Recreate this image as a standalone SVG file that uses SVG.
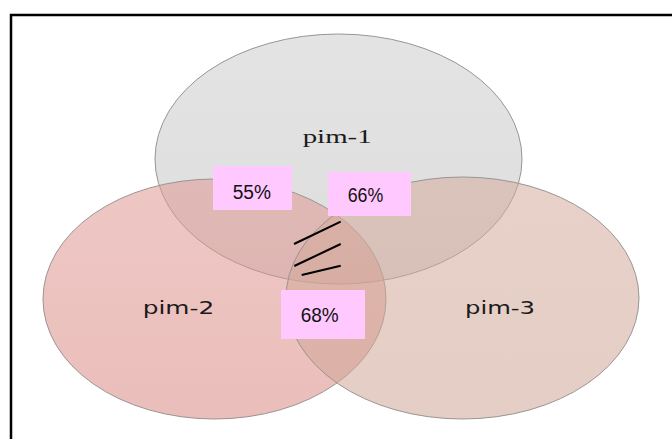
<svg xmlns="http://www.w3.org/2000/svg" width="672" height="439" viewBox="0 0 672 439">
<defs>
<linearGradient id="g1" x1="0" y1="0" x2="0" y2="1">
<stop offset="0" stop-color="#cdcdcd"/><stop offset="1" stop-color="#c2c2c2"/>
</linearGradient>
<linearGradient id="g2" x1="0" y1="0" x2="0" y2="1">
<stop offset="0" stop-color="#e09a94"/><stop offset="1" stop-color="#d98882"/>
</linearGradient>
<linearGradient id="g3" x1="0" y1="0" x2="0" y2="1">
<stop offset="0" stop-color="#d4ab9b"/><stop offset="1" stop-color="#cfa595"/>
</linearGradient>
</defs>
<style>
.ell{stroke:#9a9492;stroke-width:1;fill-opacity:0.55}
.lbl{font-family:"DejaVu Sans",sans-serif;font-size:18px;fill:#1a1a1a}
.lbls{font-family:"Liberation Serif",serif;font-size:19px;fill:#1a1a1a}
.box{fill:#ffc8ff}
.pct{font-family:"Liberation Sans",sans-serif;font-size:20.5px;fill:#111}
.hatch{stroke:#000;stroke-width:2;fill:none}
</style>
<rect width="672" height="439" fill="#fff"/>
<path d="M11 439 V15 H672" fill="none" stroke="#000" stroke-width="2.5"/>
<g id="pim-1">
<ellipse class="ell" cx="338.5" cy="159" rx="183.5" ry="125" fill="url(#g1)"/>
<text class="lbls" x="302.7" y="143" textLength="69" lengthAdjust="spacingAndGlyphs">pim-1</text>
</g>
<g id="pim-2">
<ellipse class="ell" cx="214.5" cy="299" rx="171.5" ry="120" fill="url(#g2)"/>
<text class="lbl" x="142.7" y="313.5" textLength="71.5" lengthAdjust="spacingAndGlyphs">pim-2</text>
</g>
<g id="pim-3">
<ellipse class="ell" cx="462.5" cy="298" rx="176.5" ry="121" fill="url(#g3)"/>
<text class="lbl" x="465" y="313.5" textLength="70" lengthAdjust="spacingAndGlyphs">pim-3</text>
</g>
<g id="connectors">
<line class="hatch" x1="294" y1="244" x2="340.7" y2="221.7"/>
<line class="hatch" x1="294.3" y1="266" x2="340.7" y2="244"/>
<line class="hatch" x1="301.7" y1="275" x2="340.7" y2="265.7"/>
</g>
<g id="label-55">
<rect class="box" x="213" y="166" width="79" height="44"/>
<text class="pct" x="232.7" y="199.3" textLength="38.3" lengthAdjust="spacingAndGlyphs">55%</text>
</g>
<g id="label-66">
<rect class="box" x="328" y="172" width="83" height="44"/>
<text class="pct" x="347.7" y="202.3" textLength="35.6" lengthAdjust="spacingAndGlyphs">66%</text>
</g>
<g id="label-68">
<rect class="box" x="281" y="290" width="84" height="49"/>
<text class="pct" x="300.7" y="322.3" textLength="38" lengthAdjust="spacingAndGlyphs">68%</text>
</g>
</svg>
